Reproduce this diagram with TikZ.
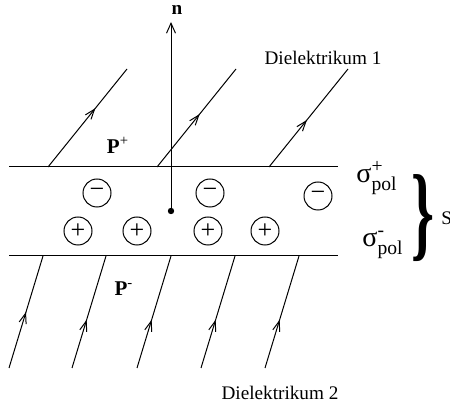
\documentclass[tikz,border=0pt]{standalone}
\usepackage{fontspec}
\setmainfont{Liberation Serif}
\usepackage{amsmath}
\usepackage{graphicx}
\usetikzlibrary{arrows.meta,decorations.markings}

\begin{document}
\begin{tikzpicture}[x=0.5pt, y=-0.5pt,
  font=\fontsize{9.6}{11}\selectfont,
  plate/.style={line width=0.5pt},
  fieldline/.style={line width=0.5pt, postaction={decorate},
    decoration={markings, mark=at position #1 with {\arrow{Straight Barb[length=5pt,width=3.6pt]}}}},
  fieldline/.default=0.5,
  charge/.style={draw, circle, line width=0.5pt, minimum size=14pt, inner sep=0pt, font=\fontsize{13}{13}\selectfont},
  lbl/.style={inner sep=0pt},
  sig/.style={inner sep=0pt, font=\fontsize{14}{14}\selectfont}]
\useasboundingbox (0,0) rectangle (450,406);
% interface layer
\coordinate (tl) at (9,167);
\coordinate (tr) at (338,167);
\coordinate (bl) at (9,256);
\coordinate (br) at (338,256);
\draw[plate] (tl) -- (tr);
\draw[plate] (bl) -- (br);
% field lines above (row 1)
\foreach \x/\p [count=\i] in {48/0.6,157/0.54,269/0.48} {
  \coordinate (up\i a) at (\x,167);
  \coordinate (up\i b) at (\x+79,69);
  \draw[fieldline=\p] (up\i a) -- (up\i b);
}
% field lines below (row 2)
\foreach \x/\p [count=\i] in {9/0.5,72/0.43,137/0.43,201/0.43,265/0.43} {
  \coordinate (lo\i a) at (\x,368);
  \coordinate (lo\i b) at (\x+34,256);
  \draw[fieldline=\p] (lo\i a) -- (lo\i b);
}
% charges
\node[charge] (m1) at (97,193) {−};
\node[charge] (m2) at (210,193) {−};
\node[charge] (m3) at (318,196) {−};
\node[charge] (p1) at (78,231) {+};
\node[charge] (p2) at (137,231) {+};
\node[charge] (p3) at (208,231) {+};
\node[charge] (p4) at (265,231) {+};
% normal vector
\node[circle, fill, inner sep=0pt, minimum size=3.2pt] (dot) at (171,211) {};
\coordinate (ntip) at (171,22);
\draw[line width=0.5pt, -{Straight Barb[length=5pt,width=4.5pt]}] (dot.center) -- (ntip);
\node[lbl, font=\fontsize{9.6}{11}\selectfont\bfseries] (nlab) at (177,10) {n};
% labels
\node[lbl] (d1) at (323,58) {Dielektrikum 1};
\node[lbl] (d2) at (280,393) {Dielektrikum 2};
\node[lbl, font=\fontsize{10.5}{12}\selectfont] (pplus) at (118,145) {\textbf{P}\textsuperscript{+}};
\node[lbl, font=\fontsize{10.5}{12}\selectfont] (pminus) at (124,289) {\textbf{P}\textsuperscript{-}};
\node[sig] (sigp) at (377,178) {σ$^{\text{+}}_{\text{pol}}$};
\node[sig] (sigm) at (383,245) {σ$^{\text{-}}_{\text{pol}}$};
\node[lbl] (brace) at (423,218) {\resizebox*{11.5pt}{43.5pt}{\textbf{\}}}};
\node[lbl, anchor=west] (slab) at (441,218) {S};
\end{tikzpicture}
\end{document}
